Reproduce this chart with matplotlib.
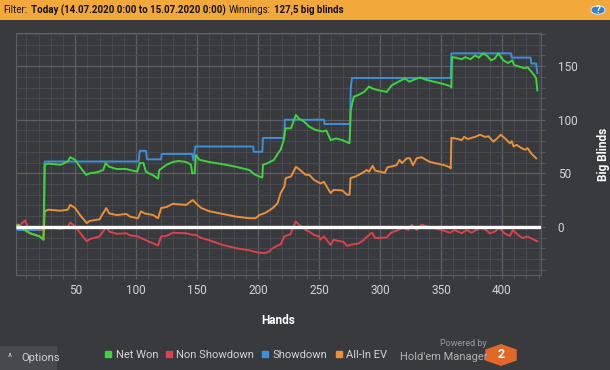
import matplotlib
matplotlib.use('Agg')
import matplotlib.pyplot as plt
from matplotlib.patches import Rectangle, RegularPolygon, Circle
from matplotlib.lines import Line2D
from matplotlib.ticker import MultipleLocator

plt.rcParams['font.family'] = ['Roboto', 'DejaVu Sans']

# Net Won
won_h = [1, 3, 6, 13, 21, 24, 25, 28, 38, 44, 46, 50, 54, 59, 62, 68, 73, 75, 78, 84, 92, 95, 101,
         103, 106, 108, 114, 118, 119, 125, 130, 135, 141, 145, 146, 148, 149, 152, 160, 171, 182,
         193, 197, 201, 203.5, 204, 207, 213, 216, 218.5, 221, 222.5, 227, 231, 233.5, 238, 242, 247,
         253, 256, 259.5, 264, 269, 272, 275, 276, 278.5, 282, 287, 291, 294, 299, 305.5, 309.5, 315,
         320.5, 324, 328, 333, 337, 342.5, 348, 353, 357.5, 358.5, 359, 362, 367, 370, 374, 378, 381,
         384.5, 388, 391, 394, 397, 401, 405, 408.5, 410, 414.5, 418.5, 421, 424, 426.5, 428, 429]
won_v = [0, 2, -1, -6, -9, -12, 58, 59, 58, 61, 65, 62.5, 56, 48.5, 50, 51, 53, 59.5, 56, 54, 54, 53, 51.5,
         59.5, 59.5, 51.5, 48, 45, 53, 58, 60.5, 61.5, 60.5, 58, 50, 50, 67, 62.5, 60.5, 58.5, 56,
         53, 49, 47, 46, 58, 59, 62.5, 68, 72, 81, 92, 92, 104.5, 101, 98, 93.5, 90.5,
         89, 90, 81, 82.5, 81, 79.5, 78, 109, 121.5, 123, 126, 131, 129, 127.5, 126, 132, 135.5,
         138.5, 135.5, 137.5, 139.5, 137.5, 136, 134.5, 133, 131.5, 130, 158.5, 158, 156.5, 158.5, 156.5, 160, 158,
         162, 159.5, 155.5, 157, 162, 155.5, 153, 155.5, 151, 149.5, 148, 149, 145, 141.5, 138.5, 127.5]

# Non Showdown
nsd_h = [1, 4, 9, 11, 16, 24, 25, 38, 44, 46, 50, 54, 59.5, 62, 70, 75.5, 78, 84, 92, 95, 101.5, 104,
         114, 118, 120.5, 125, 130, 141, 146, 149, 153.5, 160, 171, 182, 193, 199.5, 206, 209, 212,
         217, 218.5, 221.5, 226.5, 230.8, 233.5, 239, 242, 245.7, 250, 251, 254, 259.5, 262, 265, 270,
         273, 275, 282.5, 287, 288, 293.5, 296, 305.5, 309, 315, 319, 323, 326, 330, 334, 342.5, 350.5,
         357.5, 361, 367, 371, 375, 382, 386, 390, 394, 398, 402, 406.5, 409, 413, 417, 421, 427, 429]
nsd_v = [1, 1, 6, 0, -2, -3, 0, -2, 0, 4, 0.5, -5.5, -13.5, -11.5, -9, 0, -4.5, -6.5, -6, -8, -9, -10.5,
         -15.5, -17.5, -9, -8.5, -5.5, -6, -7.5, -7.5, -10.5, -12.5, -17, -20, -22, -24, -24.5, -23, -20,
         -17, -16.5, -9, -7, 5, 2, -3, -4.5, -7.5, -9, -12, -9, -17, -12, -13, -14,
         -18, -17, -15.5, -12, -10.5, -5.5, -10.5, -10, -5.5, -3, -0.5, -3, 2, -3, 2, -1, -3,
         -5.5, -3, -6, -3, -5.5, -1, -2, -6, -4.5, -1, -6, -8.5, -3, -7.5, -10.5, -9, -12.5, -13.5]

# Showdown
sd_h = [1, 3, 24.5, 25, 102, 103, 108, 109, 120.5, 121, 146, 147, 148.5, 196, 196.5, 203.5, 204,
        221.5, 222, 254, 254.5, 275.5, 276, 277, 358, 358.5, 407.5, 408, 423.5, 424, 428, 429]
sd_v = [0, -3, -3, 61, 61, 71, 71, 63, 63, 68, 68, 62, 75, 75, 70, 70, 83,
        83, 100, 100, 96, 96, 130, 139, 139, 162, 162, 158, 158, 152.5, 152.5, 143.5]

# All-In EV
ev_h = [1, 3, 6, 13, 21, 24, 25, 28, 38, 44, 46, 50, 54, 59.5, 62, 70, 75.5, 78, 84, 92, 95, 101.5,
        104, 107, 114, 118, 120.5, 125, 130, 135, 141, 146.5, 149, 153.5, 160, 171, 182, 193, 198,
        201, 206, 212, 216, 218.5, 221.5, 222.7, 227, 231, 233.5, 239, 242, 245.7, 251, 254, 259.5,
        262, 269, 273, 275, 275.8, 280, 285, 289, 291, 294, 296, 304, 306, 313.5, 316, 318, 322,
        324.5, 327, 330, 334, 340, 345, 353, 357.5, 358, 358.5, 362, 367, 369, 372, 378, 382, 386,
        389, 393, 396, 399, 403, 406.5, 408, 409.5, 412, 416, 419, 421, 424, 428]
ev_v = [0, 2, -1, -6, -9, -12, 14.5, 16, 15, 16, 20.5, 17.5, 11, 3.5, 5.5, 7, 17.5, 12.5, 11, 12, 9.5, 8,
        14.5, 12.5, 11, 8, 17.5, 18.5, 21.5, 21, 20.5, 25, 22, 17.5, 14.5, 12, 9.5, 8, 8,
        11, 13, 17.5, 22, 31.5, 37.5, 45.5, 47, 56, 54, 48.5, 48.5, 44, 40.5, 42, 31.5,
        34.5, 34, 30, 30, 45.5, 47, 50, 53, 51.5, 57, 52.5, 50.5, 55.5, 57.5, 62.5, 59.5, 64,
        64, 57.5, 64, 65, 61, 59.5, 57.5, 55.5, 54.5, 83, 82.5, 81, 84, 82, 84, 86, 84,
        84.5, 79.5, 82.5, 86, 82, 78, 80, 75, 76.5, 73.5, 72, 73.5, 68.5, 64]

series = ['Net Won', 'Non Showdown', 'Showdown', 'All-In EV']
colors = ['#3fd43f', '#d9434d', '#3d8fd8', '#e8913a']

bg = '#383a3e'
fig = plt.figure(figsize=(6.1, 3.7), dpi=100, facecolor=bg)
ax = fig.add_axes([16/610, 1-275/370, 525/610, 242/370], facecolor=bg)

ax.plot(sd_h, sd_v, color=colors[2], lw=1.4, zorder=3)
ax.plot(nsd_h, nsd_v, color=colors[1], lw=1.4, zorder=3)
ax.plot(ev_h, ev_v, color=colors[3], lw=1.4, zorder=4)
ax.plot(won_h, won_v, color=colors[0], lw=1.4, zorder=5)
ax.plot([1.5, 432], [0, 0], color='white', lw=2.4, zorder=6, solid_capstyle='butt')

ax.set_xlim(1.5, 432)
ax.set_ylim(-45, 181)
ax.xaxis.set_major_locator(MultipleLocator(50))
ax.xaxis.set_minor_locator(MultipleLocator(10))
ax.yaxis.set_major_locator(MultipleLocator(50))
ax.yaxis.set_minor_locator(MultipleLocator(10))
ax.grid(which='major', color='#5c5f63', lw=0.9)
ax.grid(which='minor', color='#47494e', lw=0.8)
ax.set_axisbelow(True)
for s in ax.spines.values():
    s.set_color('#5c5f63')
ax.yaxis.tick_right()
ax.yaxis.set_label_position('right')
ax.tick_params(which='both', colors='#5c5f63', labelcolor='#d4d4d4', labelsize=8.5, length=3)
ax.tick_params(axis='y', which='major', pad=9)
ax.set_xlabel('Hands', color='white', fontsize=8.5, fontweight='bold', labelpad=12)
ax.set_ylabel('Big Blinds', color='white', fontsize=8.5, fontweight='bold', labelpad=14)

# top filter bar
fig.patches.append(Rectangle((0, 1-20/370), 1, 20/370, transform=fig.transFigure,
                             facecolor='#f3a83c', edgecolor='none', zorder=0))
ty = 1 - 10/370
pieces = [('Filter:', 'normal'), ('Today (14.07.2020 0:00 to 15.07.2020 0:00)', 'bold'),
          ('Winnings:', 'normal'), ('127,5 big blinds', 'bold')]
renderer = fig.canvas.get_renderer()
x = 3
for txt, w in pieces:
    t = fig.text(x/610, ty, txt, fontsize=7, fontweight=w, va='center', color='#111', zorder=2)
    x += t.get_window_extent(renderer).width + 3.5
fig.patches.append(Circle((598/610, 1-10/370), 7/610, transform=fig.transFigure,
                          facecolor='#2f7fd0', edgecolor='#cfe0f5', lw=0.8))
fig.text(598/610, 1-10/370, '?', fontsize=7, fontweight='bold', color='white',
         ha='center', va='center')

# options button
fig.patches.append(Rectangle((0, 0), 57/610, 24/370, transform=fig.transFigure,
                             facecolor='#47494d', edgecolor='none', zorder=0))
fig.text(8/610, 12/370, '^', fontsize=7, color='#d0d0d0', va='center')
fig.text(21/610, 12/370, 'Options', fontsize=8, color='#d0d0d0', va='center')

# legend
handles = [Line2D([], [], ls='none', marker='s', ms=4.5, color=c) for c in colors]
fig.legend(handles, series, loc='center', bbox_to_anchor=(246/610, 1-355/370), ncol=4,
           frameon=False, fontsize=8, labelcolor='#d4d4d4', handlelength=0.6,
           handletextpad=0.35, columnspacing=0.7)

# branding
fig.text(487/610, 1-344/370, 'Powered by', fontsize=6.5, color='#9a9a9a', ha='right', va='center')
fig.text(487/610, 1-357/370, "Hold'em Manager", fontsize=8, color='#b4b4b4', ha='right', va='center')
fig.patches.append(RegularPolygon((501/610, 1-355/370), 6, radius=11/370,
                                  transform=fig.transFigure, facecolor='#e2682a', edgecolor='none'))
fig.text(501/610, 1-355/370, '2', fontsize=9, fontweight='bold', color='white', ha='center', va='center')

fig.savefig('out.png', dpi=100, facecolor=bg)
